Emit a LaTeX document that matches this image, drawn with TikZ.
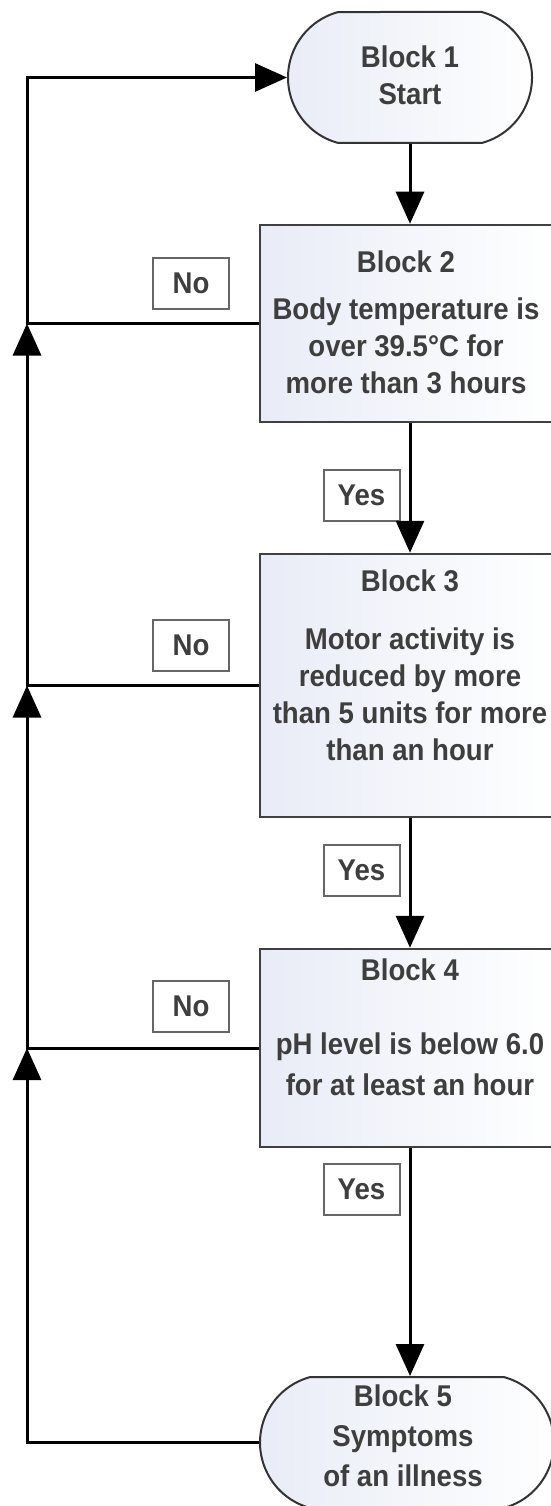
\documentclass[tikz,border=0pt]{standalone}
\usepackage{fontspec}
\setmainfont{Liberation Sans}[FakeStretch=0.92]
\usepackage{tikz}
\usetikzlibrary{arrows.meta,shapes.misc}
\definecolor{boxtint}{RGB}{232,236,246}
\definecolor{inktext}{RGB}{62,62,62}
\tikzset{
    flow-box/.style = {draw=black!75, line width=2.5pt, rectangle, left color=boxtint, right color=white, minimum width=296pt, inner sep=0pt},
    flow-end/.style = {draw=black!80, line width=2pt, rounded rectangle, rounded rectangle arc length=150, minimum width=244pt, minimum height=131pt, left color=boxtint, right color=white, inner sep=0pt},
    flow-text/.style = {text=inktext, font=\fontsize{30}{37}\selectfont\bfseries, align=center, inner sep=0pt},
    answer-box/.style = {draw=black!60, line width=2pt, fill=white, minimum width=76pt, minimum height=51pt, inner sep=0pt, text=inktext, font=\fontsize{30}{36}\selectfont\bfseries},
    flow-line/.style = {line width=3pt, draw=black},
    flow-arrow/.style = {flow-line, -{Triangle[length=32pt,width=28pt]}},
}

\begin{document}
\begin{tikzpicture}[x=1pt, y=-1pt]
\useasboundingbox (0,0) rectangle (551,1506);
% blocks
\node [flow-end] (b1) at (410,77.5) {};
\node [flow-box, minimum height=197pt] (b2) at (408,323.5) {};
\node [flow-box, minimum height=263pt] (b3) at (408,685.5) {};
\node [flow-box, minimum height=198pt] (b4) at (408,1048) {};
\node [flow-end, minimum width=294pt] (b5) at (407,1442.5) {};

% texts
\node [flow-text] (t1) at (410,75) {Block 1\\Start};
\node [flow-text] (h2) at (406,262) {Block 2};
\node [flow-text] (t2) at (406,346) {Body temperature is\\over 39.5°C for\\more than 3 hours};
\node [flow-text] (h3) at (410,581) {Block 3};
\node [flow-text] (t3) at (410,694) {Motor activity is\\reduced by more\\than 5 units for more\\than an hour};
\node [flow-text] (h4) at (410,970) {Block 4};
\node [flow-text, font=\fontsize{30}{41}\selectfont\bfseries] (t4) at (410,1064) {pH level is below 6.0\\for at least an hour};
\node [flow-text, font=\fontsize{30}{40}\selectfont\bfseries] (t5) at (403,1436) {Block 5\\Symptoms\\of an illness};

% answers
\node [answer-box] (no2) at (191,283.5) {No};
\node [answer-box] (no3) at (191,645.5) {No};
\node [answer-box] (no4) at (191,1006) {No};
\node [answer-box] (yes2) at (361.5,495.5) {Yes};
\node [answer-box] (yes3) at (361.5,870.5) {Yes};
\node [answer-box] (yes4) at (361.5,1189) {Yes};

% connectors
\coordinate (col) at (27,0);
\draw [flow-arrow] (b1.south) -- (b1.south |- b2.north);
\draw [flow-arrow] (b2.south -| b1.south) -- (b1.south |- b3.north);
\draw [flow-arrow] (b3.south -| b1.south) -- (b1.south |- b4.north);
\draw [flow-arrow] (b4.south -| b1.south) -- (b1.south |- b5.north);
\draw [flow-arrow] (b5.west) -| (b4.west -| col);
\draw [flow-arrow] (b4.west) -- (b4.west -| col) -- (b3.west -| col);
\draw [flow-arrow] (b3.west) -- (b3.west -| col) -- (b2.west -| col);
\draw [flow-arrow] (b2.west) -- (b2.west -| col) |- (b1.west);
\end{tikzpicture}
\end{document}
